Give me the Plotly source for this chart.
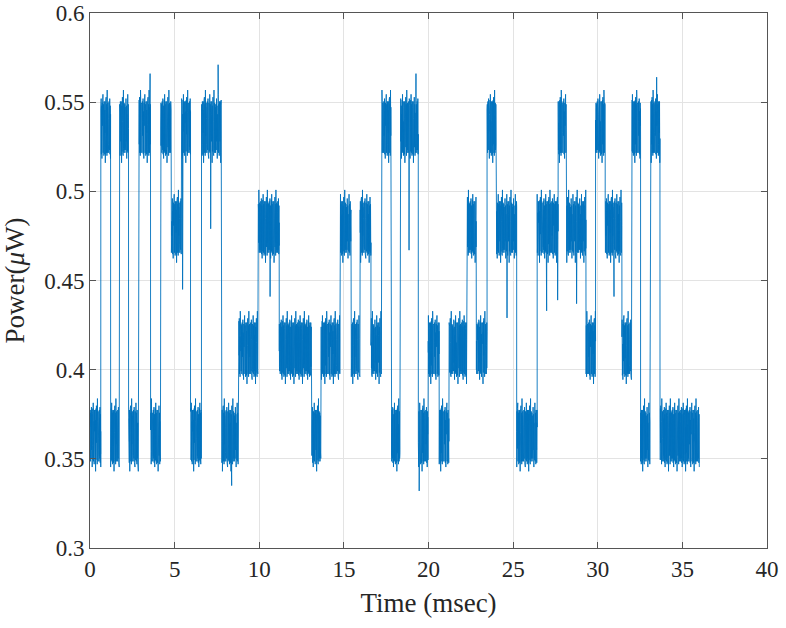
import numpy as np
import plotly.graph_objects as go

# Segment boundaries (msec) and level code per segment
seg_bounds = [0, 0.64, 1.22, 1.73, 2.28, 2.87, 3.58, 4.17, 4.80, 5.41,
              5.94, 6.59, 7.77, 8.78, 9.94, 11.18, 13.09, 13.64, 14.77, 15.42,
              15.95, 16.60, 17.23, 17.78, 18.32, 19.40, 19.98, 20.63, 21.21, 22.29,
              22.82, 23.46, 23.99, 25.21, 26.42, 27.66, 28.16, 29.30, 29.87, 30.44,
              31.43, 32.00, 32.53, 33.10, 33.68, 36.0]
seg_codes = ["L", "H", "L", "H", "L", "H", "L", "H", "MH", "H",
             "L", "H", "L", "ML", "MH", "ML", "L", "ML", "MH", "ML",
             "MH", "ML", "H", "L", "H", "L", "ML", "L", "ML", "MH",
             "ML", "H", "MH", "L", "MH", "H", "MH", "ML", "H", "MH",
             "ML", "H", "L", "H", "L"]
level_values = {"L": 0.363, "ML": 0.412, "MH": 0.480, "H": 0.536}
# hand-typed ripple pattern (relative units) repeated along each segment
ripple = [0.3, -0.6, 0.8, -0.2, 0.5, -0.9, 0.1, 0.7, -0.4, 0.9, -0.7, 0.2, -0.3,
          0.6, -0.8, 0.4, -0.1, 1.0, -0.5, 0.3, -0.95, 0.55, -0.25, 0.75, -0.65,
          0.15, -1.1, 0.45, -0.35, 0.85, -0.75, 0.05, 0.65, -0.45, 0.95, -0.85,
          0.25, -0.15, 1.15, -0.55, 0.35, -0.9, 0.6, -0.3, 0.8, -0.7, 0.2, -0.05,
          0.5, -1.0, 0.4, -0.6, 0.9, -0.35, 0.7, -0.8, 0.15, 0.85, -0.5, 0.45,
          -0.95, 0.6, -0.2, 0.9, -0.65, 0.3, -1.25, 0.55, -0.4, 0.75, -0.85, 0.1,
          0.95, -0.6, 0.35, -0.25, 1.05, -0.7, 0.2, -0.9, 0.65, -0.45, 0.8, -0.15,
          0.4, -1.0, 0.5, -0.55, 1.3, -0.75, 0.25, -0.3, 0.7, -0.9, 0.45, -0.1,
          0.85, -0.65, 0.05, -0.8, 0.6]
ripple_amp = 0.016
# isolated spikes (time msec, value)
spike_times = [3.55, 7.13, 7.57, 8.37, 10.64, 18.85, 19.26, 19.45, 24.64,
               26.98, 27.63, 28.75, 30.96, 33.48, 5.47]
spike_values = [0.566, 0.479, 0.571, 0.335, 0.441, 0.467, 0.566, 0.332, 0.429,
                0.433, 0.439, 0.437, 0.441, 0.564, 0.445]
dt = 0.005

t_all, y_all = [], []
for i, code in enumerate(seg_codes):
    t0, t1 = seg_bounds[i], seg_bounds[i + 1]
    ts = np.arange(t0, t1, dt)
    lev = level_values[code]
    for k, tt in enumerate(ts):
        t_all.append(tt)
        y_all.append(lev + ripple_amp * ripple[(k + 13 * i) % len(ripple)])
t_arr = np.array(t_all)
y_arr = np.array(y_all)
for st, sv in zip(spike_times, spike_values):
    y_arr[int(np.argmin(np.abs(t_arr - st)))] = sv

fig = go.Figure()
fig.add_trace(go.Scatter(x=t_arr, y=y_arr, mode="lines",
                         line=dict(color="#0072BD", width=0.9),
                         showlegend=False, hoverinfo="skip"))

tick_font = dict(family="Liberation Serif, Times New Roman, serif", size=23, color="#262626")
title_font = dict(family="Liberation Serif, Times New Roman, serif", size=27, color="#262626")
axis_common = dict(showgrid=True, gridcolor="#E3E3E3", gridwidth=1,
                   showline=True, linecolor="#555555", linewidth=1,
                   mirror="ticks", ticks="inside", ticklen=6, tickcolor="#555555",
                   zeroline=False, tickfont=tick_font, automargin=False)
fig.update_layout(
    width=786, height=628,
    margin=dict(l=90, r=19, t=13, b=80),
    paper_bgcolor="white", plot_bgcolor="white",
    font=tick_font,
    xaxis=dict(range=[0, 40], tickvals=list(range(0, 41, 5)),
               title=dict(text="Time (msec)", font=title_font, standoff=12), **axis_common),
    yaxis=dict(range=[0.3, 0.6], tickvals=[0.3, 0.35, 0.4, 0.45, 0.5, 0.55, 0.6],
               ticktext=["0.3", "0.35", "0.4", "0.45", "0.5", "0.55", "0.6"],
               title=dict(text="Power(<i>μ</i>W)", font=title_font, standoff=12), **axis_common),
)
fig.write_html("out.html")
